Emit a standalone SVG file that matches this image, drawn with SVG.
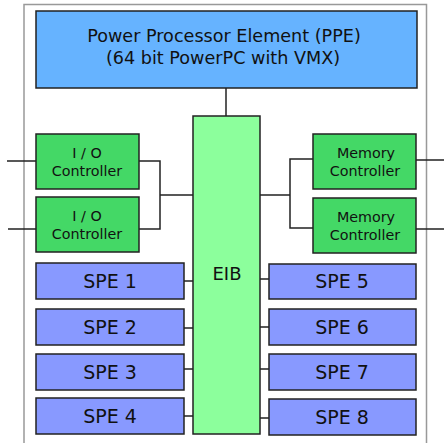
<svg xmlns="http://www.w3.org/2000/svg" width="444" height="443" viewBox="0 0 444 443">
<style>
  .box{stroke:#222;stroke-width:1.5}
  .ppe{fill:#66b3ff}
  .eib{fill:#8cff9c}
  .ctl{fill:#44d866}
  .spe{fill:#8899ff}
  .frame{fill:none;stroke:#999;stroke-width:1.5}
  .c{fill:none;stroke:#222;stroke-width:1.5}
  text{font-family:"DejaVu Sans",sans-serif;fill:#111;text-anchor:middle}
  .t15{font-size:17.6px}
  .t13{font-size:14.3px}
  .t18{font-size:19px}
</style>
<rect width="444" height="443" fill="#fff"/>
<path class="frame" d="M24,450 V4.5 H426.5 V450"/>
<g id="connectors">
  <path class="c" d="M226,88 V116"/>
  <path class="c" d="M7,161 H36 M8,229 H36"/>
  <path class="c" d="M139,161 H160 V229 H139 M160,195 H193"/>
  <path class="c" d="M260,195 H290 M313,159 H290 V228 H313"/>
  <path class="c" d="M416,160 H444 M416,229 H444"/>
  <path class="c" d="M184,281 H193 M184,328 H193 M184,369 H193 M184,416 H193"/>
  <path class="c" d="M260,279 H269 M260,327 H269 M260,369 H269 M260,418 H269"/>
</g>
<g id="ppe">
  <rect class="box ppe" x="36" y="11" width="381" height="77"/>
  <text class="t15" x="224" y="42">Power Processor Element (PPE)</text>
  <text class="t15" x="223" y="64">(64 bit PowerPC with VMX)</text>
</g>
<g id="eib">
  <rect class="box eib" x="193" y="116" width="67" height="318"/>
  <text x="227" y="280" style="font-size:18px">EIB</text>
</g>
<g id="io1">
  <rect class="box ctl" x="36" y="134" width="103" height="55"/>
  <text class="t13" x="87" y="158">I / O</text>
  <text class="t13" x="87" y="176">Controller</text>
</g>
<g id="io2">
  <rect class="box ctl" x="36" y="197" width="103" height="55"/>
  <text class="t13" x="87" y="221">I / O</text>
  <text class="t13" x="87" y="239">Controller</text>
</g>
<g id="mem1">
  <rect class="box ctl" x="313" y="134" width="103" height="55"/>
  <text class="t13" x="366" y="158">Memory</text>
  <text class="t13" x="365" y="176">Controller</text>
</g>
<g id="mem2">
  <rect class="box ctl" x="313" y="198" width="103" height="55"/>
  <text class="t13" x="366" y="222">Memory</text>
  <text class="t13" x="365" y="240">Controller</text>
</g>
<g id="spe1"><rect class="box spe" x="36" y="263" width="148" height="36"/><text class="t18" x="110" y="288">SPE 1</text></g>
<g id="spe2"><rect class="box spe" x="36" y="309" width="148" height="36"/><text class="t18" x="110" y="334">SPE 2</text></g>
<g id="spe3"><rect class="box spe" x="36" y="354" width="148" height="36"/><text class="t18" x="110" y="379">SPE 3</text></g>
<g id="spe4"><rect class="box spe" x="36" y="398" width="148" height="36"/><text class="t18" x="110" y="423">SPE 4</text></g>
<g id="spe5"><rect class="box spe" x="269" y="264" width="147" height="35"/><text class="t18" x="342" y="288">SPE 5</text></g>
<g id="spe6"><rect class="box spe" x="269" y="309" width="147" height="36"/><text class="t18" x="342" y="334">SPE 6</text></g>
<g id="spe7"><rect class="box spe" x="269" y="354" width="147" height="36"/><text class="t18" x="342" y="379">SPE 7</text></g>
<g id="spe8"><rect class="box spe" x="269" y="399" width="147" height="36"/><text class="t18" x="342" y="424">SPE 8</text></g>
</svg>
